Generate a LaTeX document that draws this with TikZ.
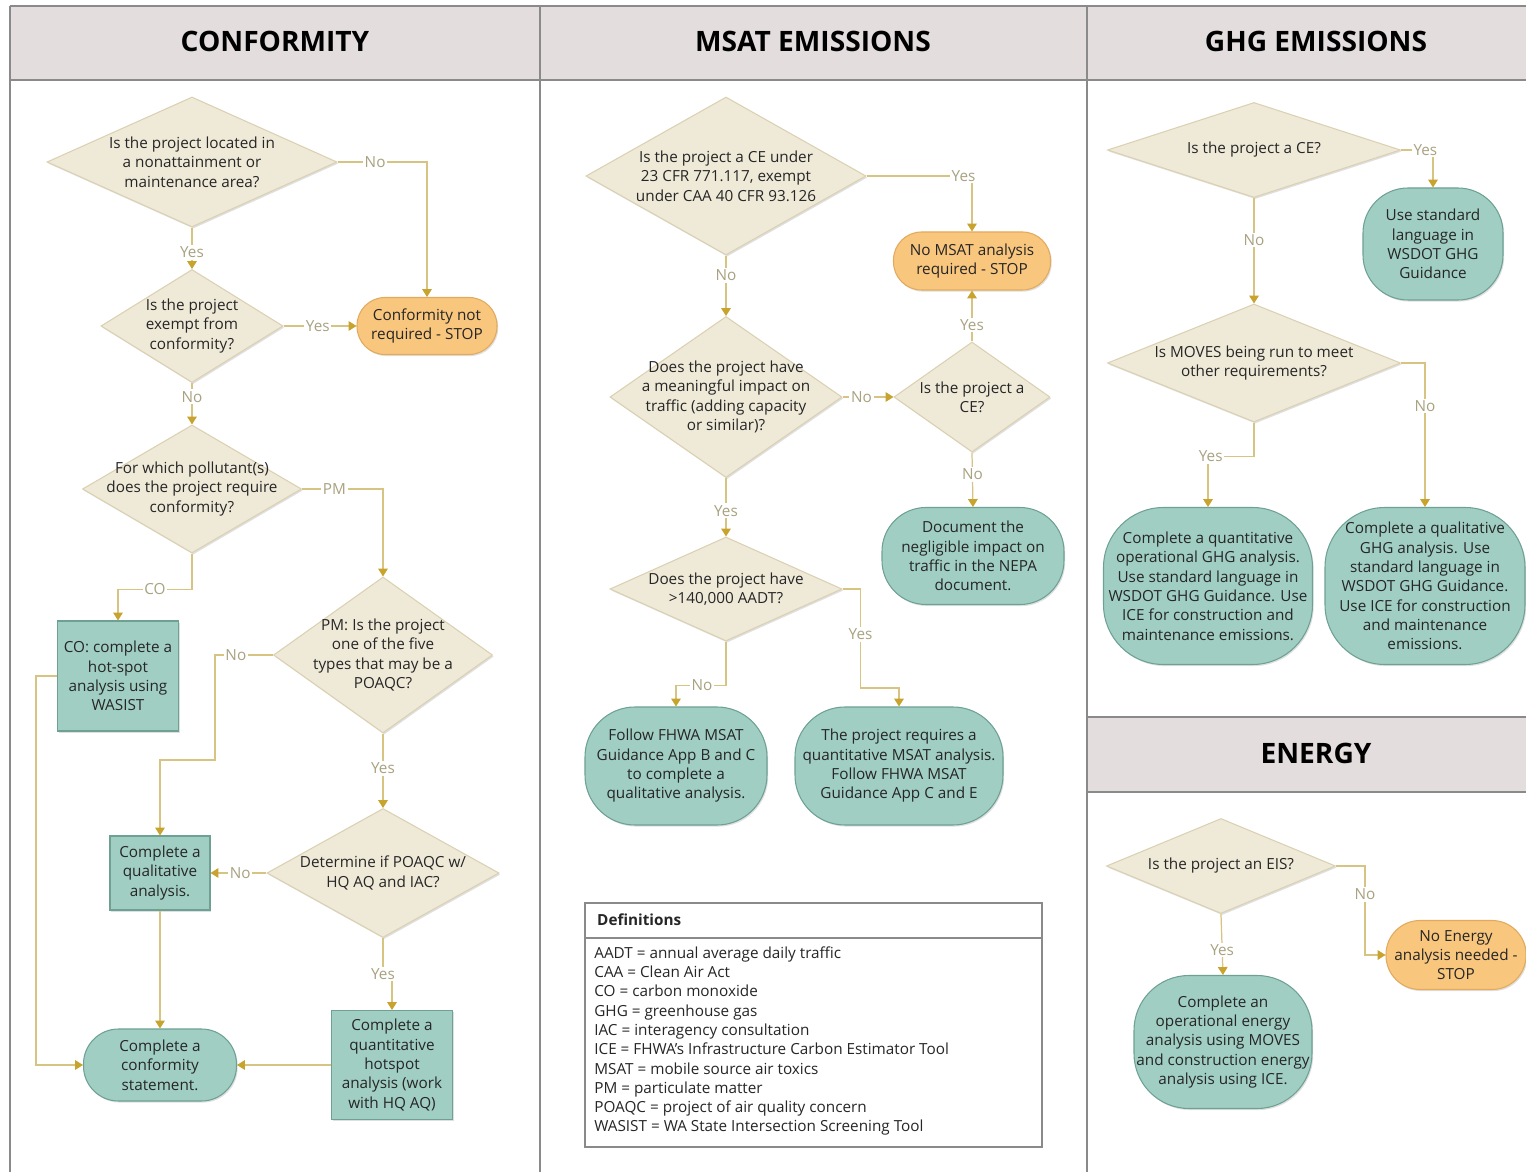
\documentclass[tikz,border=0pt]{standalone}
\usepackage{fontspec}
\setmainfont{Open Sans}
\usetikzlibrary{shapes.geometric,arrows.meta,shadows}
\definecolor{bandgray}{RGB}{228,221,222}
\definecolor{rulegray}{RGB}{138,138,138}
\definecolor{sand}{RGB}{239,233,216}
\definecolor{sandedge}{RGB}{219,209,178}
\definecolor{sea}{RGB}{160,206,195}
\definecolor{seaedge}{RGB}{110,160,148}
\definecolor{tangerine}{RGB}{249,198,126}
\definecolor{tangerineedge}{RGB}{226,170,92}
\definecolor{goldline}{RGB}{215,196,130}
\definecolor{goldtip}{RGB}{200,163,45}
\definecolor{olivegray}{RGB}{168,162,128}
\newcommand\flowfont{\fontsize{8.7}{11}\selectfont}

\tikzset{
  every node/.style={font=\flowfont, align=center, text=black!85},
  wh/.style 2 args={minimum width=#1*0.02cm, minimum height=#2*0.02cm},
  softshadow/.style={drop shadow={opacity=0.25, shadow xshift=0.7pt, shadow yshift=-0.9pt}},
  ask/.style 2 args={diamond, wh={#1}{#2}, /utils/exec={\pgfmathsetmacro\askratio{#1/#2}}, aspect=\askratio,
                    inner xsep=-16pt, inner ysep=-4pt, draw=sandedge, fill=sand, line width=0.6pt, softshadow},
  task/.style 2 args={rectangle, wh={#1}{#2}, inner sep=0pt, draw=seaedge, fill=sea, line width=0.6pt, softshadow},
  goal/.style n args={3}{rectangle, rounded corners=#3*0.02cm, wh={#1}{#2}, inner sep=0pt,
                    draw=seaedge, fill=sea, line width=0.6pt, softshadow},
  halt/.style n args={3}{goal={#1}{#2}{#3}, draw=tangerineedge, fill=tangerine},
  flow/.style={draw=goldline, line width=0.7pt, -{Triangle[width=5.5pt,length=4.5pt,color=goldtip]}},
  lbl/.style={fill=white, text=olivegray, inner sep=1pt},
  coltitle/.style={font=\fontsize{16}{18}\selectfont\bfseries, text=black},
}

\begin{document}
\begin{tikzpicture}[x=0.02cm, y=-0.02cm]
\useasboundingbox (0,0) rectangle (1526,1172);
\fill[white] (0,0) rectangle (1526,1172);

% column frame
\fill[bandgray] (10,6) rectangle (1526,80);
\fill[bandgray] (1087,717) rectangle (1526,792);
\draw[rulegray, line width=1pt] (10,6) -- (1526,6)  (10,80) -- (1526,80)
     (1087,717) -- (1526,717)  (1087,792) -- (1526,792)
     (10,6) -- (10,1172)  (540,6) -- (540,1172)  (1087,6) -- (1087,1172);
\node[coltitle] (hconf)   at (275,41)  {CONFORMITY};
\node[coltitle] (hmsat)   at (813,41)  {MSAT EMISSIONS};
\node[coltitle] (hghg)    at (1316,41) {GHG EMISSIONS};
\node[coltitle] (henergy) at (1316,753) {ENERGY};

% conformity
\node[ask={290}{130}]      (cf1)     at (192,162)  {Is the project located in\\a nonattainment or\\maintenance area?};
\node[ask={182}{113}]      (cf2)     at (192,326)  {Is the project\\exempt from\\conformity?};
\node[halt={140}{57}{28}]  (cfstop)  at (427,326)  {Conformity not\\required - STOP};
\node[ask={219}{128}]      (cf3)     at (192,489)  {For which pollutant(s)\\does the project require\\conformity?};
\node[task={121}{110}]     (cfco)    at (118,676)  {CO: complete a\\hot-spot\\analysis using\\WASIST};
\node[ask={219}{156}]      (cf4)     at (383,655)  {PM: Is the project\\one of the five\\types that may be a\\POAQC?};
\node[task={100}{74}]      (cfqual)  at (160,873)  {Complete a\\qualitative\\analysis.};
\node[ask={232}{129}]      (cf5)     at (383,873)  {Determine if POAQC w/\\HQ AQ and IAC?};
\node[task={121}{109}]     (cfquant) at (392,1065) {Complete a\\quantitative\\hotspot\\analysis (work\\with HQ AQ)};
\node[goal={153}{72}{35}]  (cfend)   at (160,1065) {Complete a\\conformity\\statement.};

\draw[flow] (cf1.east) -| node[lbl, pos=0.21] {No} (cfstop.north);
\draw[flow] (cf1.south) -- node[lbl, pos=0.6] {Yes} (cf2.north);
\draw[flow] (cf2.east) -- node[lbl, pos=0.47] {Yes} (cfstop.west);
\draw[flow] (cf2.south) -- node[lbl, pos=0.33] {No} (cf3.north);
\draw[flow] (cf3.east) -| node[lbl, pos=0.2] {PM} (cf4.north);
\draw[flow] (cf3.south) -- ++(0,36) -| node[lbl, pos=0.25] {CO} (cfco.north);
\draw[flow] (cf4.west) -- node[lbl, pos=0.64] {No} ++(-58,0) -- ++(0,105) -| (cfqual.north);
\draw[flow] (cf4.south) -- node[lbl, pos=0.47] {Yes} (cf5.north);
\draw[flow] (cf5.west) -- node[lbl, pos=0.47] {No} (cfqual.east);
\draw[flow] (cf5.south) -- node[lbl, pos=1] {Yes} ++(0,36) -| (cfquant.north);
\draw[flow] (cfco.west) -- ++(-21,0) |- (cfend.west);
\draw[flow] (cfqual.south) -- (cfend.north);
\draw[flow] (cfquant.west) -- (cfend.east);

% msat emissions
\node[ask={280}{158}]      (ms1)     at (726,176)  {Is the project a CE under\\23 CFR 771.117, exempt\\under CAA 40 CFR 93.126};
\node[halt={157}{58}{28}]  (msstop)  at (972,261)  {No MSAT analysis\\required - STOP};
\node[ask={232}{161}]      (ms2)     at (726,397)  {Does the project have\\a meaningful impact on\\traffic (adding capacity\\or similar)?};
\node[ask={156}{110}]      (ms3)     at (972,397)  {Is the project a\\CE?};
\node[goal={182}{97}{44}]  (msdoc)   at (973,556)  {Document the\\negligible impact on\\traffic in the NEPA\\document.};
\node[ask={232}{104}]      (ms4)     at (726,589)  {Does the project have\\>140,000 AADT?};
\node[goal={182}{118}{50}] (msqual)  at (676,766)  {Follow FHWA MSAT\\Guidance App B and C\\to complete a\\qualitative analysis.};
\node[goal={208}{118}{50}] (msquant) at (899,766)  {The project requires a\\quantitative MSAT analysis.\\Follow FHWA MSAT\\Guidance App C and E};

\draw[flow] (ms1.east) -| node[lbl, pos=0.46] {Yes} (msstop.north);
\draw[flow] (ms1.south) -- node[lbl, pos=0.33] {No} (ms2.north);
\draw[flow] (ms2.east) -- node[lbl, pos=0.37] {No} (ms3.west);
\draw[flow] (ms3.north) -- node[lbl, pos=0.32] {Yes} (msstop.south);
\draw[flow] (ms3.south) -- node[lbl, pos=0.4] {No} (msdoc.north);
\draw[flow] (ms2.south) -- node[lbl, pos=0.56] {Yes} (ms4.north);
\draw[flow] (ms4.south) -- ++(0,44) -| node[lbl, pos=0.24] {No} (msqual.north);
\draw[flow] (ms4.east) -- ++(18,0) -- node[lbl, pos=0.46] {Yes} ++(0,99) -| (msquant.north);

% definitions
\draw[rulegray, line width=0.7pt] (585,903) rectangle (1042,1147);
\draw[rulegray, line width=0.7pt] (585,938) -- (1042,938);
\node[anchor=west, font=\flowfont\bfseries] (defhead) at (591,920) {Definitions};
\node[anchor=north west, align=left, inner sep=0pt] (deflist) at (594,946)
  {AADT = annual average daily traffic\\
   CAA = Clean Air Act\\
   CO = carbon monoxide\\
   GHG = greenhouse gas\\
   IAC = interagency consultation\\
   ICE = FHWA’s Infrastructure Carbon Estimator Tool\\
   MSAT = mobile source air toxics\\
   PM = particulate matter\\
   POAQC = project of air quality concern\\
   WASIST = WA State Intersection Screening Tool};

% ghg emissions
\node[ask={293}{95}]       (gh1)     at (1254,150) {Is the project a CE?};
\node[goal={140}{112}{45}] (ghstd)   at (1433,244) {Use standard\\language in\\WSDOT GHG\\Guidance};
\node[ask={293}{118}]      (gh2)     at (1254,363) {Is MOVES being run to meet\\other requirements?};
\node[goal={209}{157}{60}] (ghquant) at (1208,586) {Complete a quantitative\\operational GHG analysis.\\Use standard language in\\WSDOT GHG Guidance. Use\\ICE for construction and\\maintenance emissions.};
\node[goal={200}{157}{60}] (ghqual)  at (1425,586) {Complete a qualitative\\GHG analysis. Use\\standard language in\\WSDOT GHG Guidance.\\Use ICE for construction\\and maintenance\\emissions.};

\draw[flow] (gh1.east) -| node[lbl, pos=0.38] {Yes} (ghstd.north);
\draw[flow] (gh1.south) -- node[lbl, pos=0.4] {No} (gh2.north);
\draw[flow] (gh2.south) -- ++(0,34) -| node[lbl, pos=0.47] {Yes} (ghquant.north);
\draw[flow] (gh2.east) -| node[lbl, pos=0.65] {No} (ghqual.north);

% energy
\node[ask={229}{95}]       (en1)     at (1221,866) {Is the project an EIS?};
\node[halt={140}{69}{34}]  (enstop)  at (1456,955) {No Energy\\analysis needed -\\STOP};
\node[goal={178}{133}{55}] (enop)    at (1223,1042) {Complete an\\operational energy\\analysis using MOVES\\and construction energy\\analysis using ICE.};

\draw[flow] (en1.east) -- ++(29,0) |- node[lbl, pos=0.16] {No} (enstop.west);
\draw[flow] (en1.south) -- node[lbl, pos=0.59] {Yes} (enop.north);
\end{tikzpicture}
\end{document}
